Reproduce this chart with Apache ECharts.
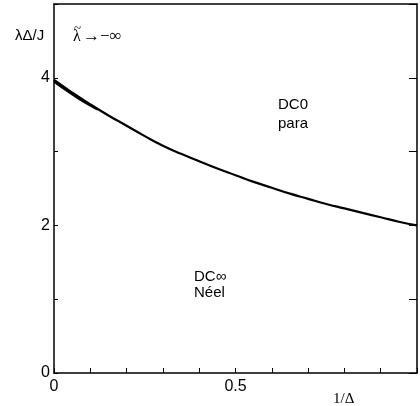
<!DOCTYPE html>
<html lang="en">
<head>
  <meta charset="UTF-8">
  <title>phase diagram</title>
  <style>
    * { margin: 0; padding: 0; }
    body { background: #fff; }
    #chart { width: 420px; height: 406px; }
  </style>
</head>
<body>
  <div id="chart"></div>
  <script src="https://cdn.jsdelivr.net/npm/echarts@6/dist/echarts.min.js"></script>
  <script>
    // values
    const invDelta = [0, 0.05, 0.1, 0.15, 0.2, 0.25, 0.3, 0.35, 0.4, 0.45, 0.5,
                      0.55, 0.6, 0.65, 0.7, 0.75, 0.8, 0.85, 0.9, 0.95, 1.0];
    const lambdaC  = [3.97, 3.80, 3.64, 3.49, 3.35, 3.21, 3.08, 2.97, 2.87, 2.77, 2.68,
                      2.59, 2.51, 2.43, 2.36, 2.29, 2.23, 2.17, 2.11, 2.05, 2.00];
    // second branch that thickens the line near the start
    const invDelta2 = [0, 0.04, 0.08, 0.12];
    const lambdaC2  = [3.95, 3.81, 3.68, 3.57];

    const xLabels = ['0', '0.5'];
    const yLabels = ['0', '2', '4'];

    const font = 'Liberation Sans, Arial, sans-serif';
    const serif = 'Liberation Serif, Times New Roman, serif';

    const chart = echarts.init(document.getElementById('chart'));

    chart.setOption({
      animation: false,
      grid: { left: 54, top: 4, width: 372, height: 369 },
      xAxis: [{
        type: 'value', min: 0, max: 1, interval: 0.1,
        axisLine: { lineStyle: { color: '#000', width: 1.5 } },
        axisTick: { inside: true, length: 5, lineStyle: { color: '#000' } },
        splitLine: { show: false },
        axisLabel: {
          color: '#000', fontSize: 16, fontFamily: font, margin: 6,
          formatter: v => {
            const s = String(Math.round(v * 10) / 10);
            return xLabels.includes(s) ? s : '';
          }
        }
      }, {
        type: 'value', min: 0, max: 1, position: 'top',
        axisLine: { show: true, onZero: false, lineStyle: { color: '#000', width: 1.5 } },
        axisTick: { show: false }, axisLabel: { show: false }, splitLine: { show: false }
      }],
      yAxis: [{
        type: 'value', min: 0, max: 5, interval: 1,
        axisLine: { show: true, lineStyle: { color: '#000', width: 1.5 } },
        axisTick: { show: true, inside: true, length: 4, lineStyle: { color: '#000' } },
        splitLine: { show: false },
        axisLabel: {
          color: '#000', fontSize: 16, fontFamily: font, margin: 4,
          formatter: v => yLabels.includes(String(v)) ? String(v) : ''
        }
      }, {
        type: 'value', min: 0, max: 5, interval: 1, position: 'right',
        axisLine: { show: true, onZero: false, lineStyle: { color: '#000', width: 1.5 } },
        axisTick: { show: true, inside: true, length: 8, lineStyle: { color: '#000' } },
        axisLabel: { show: false }, splitLine: { show: false }
      }],
      series: [{
        type: 'line',
        data: invDelta.map((x, i) => [x, lambdaC[i]]),
        smooth: true, showSymbol: false,
        lineStyle: { color: '#000', width: 2.2 }
      }, {
        type: 'line',
        data: invDelta2.map((x, i) => [x, lambdaC2[i]]),
        smooth: true, showSymbol: false,
        lineStyle: { color: '#000', width: 2.2 }
      }],
      graphic: [
        { type: 'text', left: 15, top: 28, style: { text: 'λΔ/J', font: '15px ' + font, fill: '#000' } },
        { type: 'text', left: 73, top: 29, style: { text: 'λ', font: '16px ' + serif, fill: '#000' } },
        { type: 'text', left: 74, top: 22, style: { text: '~', font: '13px ' + serif, fill: '#000' } },
        { type: 'text', left: 83, top: 28, style: { text: '→−∞', font: '17px ' + serif, fill: '#000' } },
        { type: 'text', left: 333, top: 392, style: { text: '1/Δ', font: '15px ' + serif, fill: '#000' } },
        { type: 'text', left: 278, top: 95, style: { text: 'DC0\npara', font: '15px ' + font, fill: '#000', lineHeight: 19 } },
        { type: 'text', left: 194, top: 269, style: { text: 'DC∞\nNéel', font: '15px ' + font, fill: '#000', lineHeight: 16 } }
      ]
    });
  </script>
</body>
</html>
